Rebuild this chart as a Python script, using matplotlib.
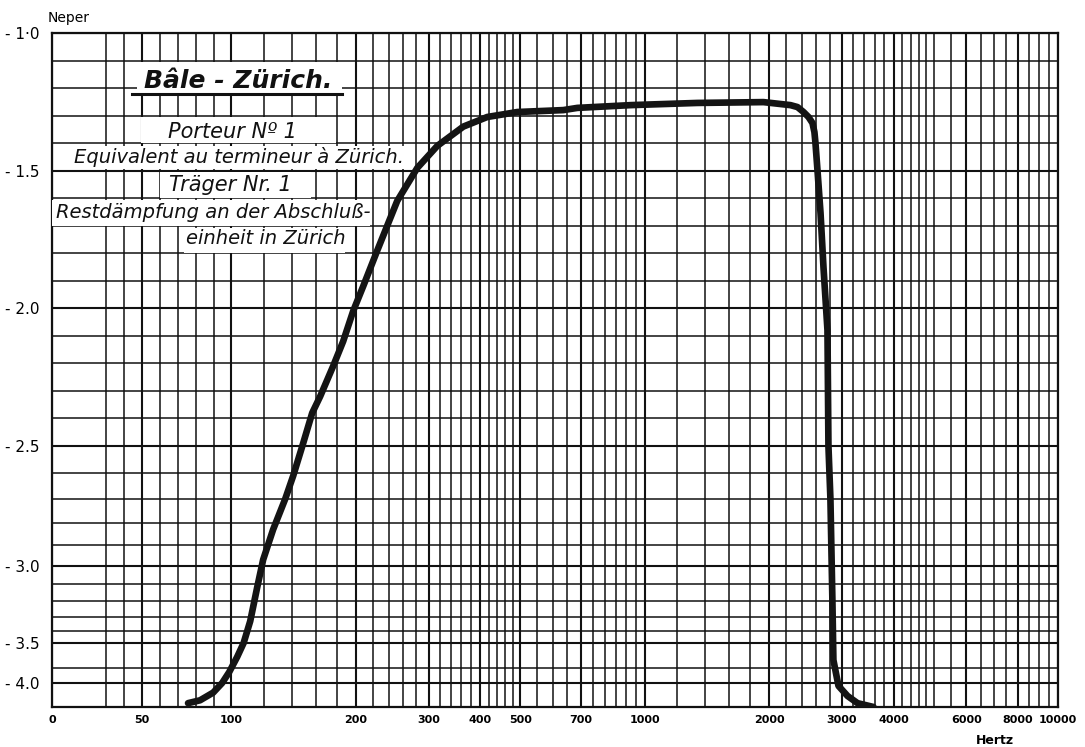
import numpy as np
import matplotlib
matplotlib.use("Agg")
from matplotlib import pyplot as plt
from matplotlib.patches import Rectangle

# frequency (Hz) and residual attenuation (Neper)
freq_hz = [75.8, 82.5, 89.8, 94.8, 98.7, 103.2, 107.0, 111.0, 115.4, 119.3,
           126.1, 134.9, 141.1, 149.1, 156.8, 163.9, 176.2, 186.3, 197.0, 208.3,
           225.3, 251.8, 281.6, 314.8, 363.9, 415.9, 491.6, 635.3, 686.9, 923,
           1341, 1938, 2253, 2342, 2422, 2490, 2546, 2574, 2589, 2618, 2663, 2707, 2768,
           2783, 2814, 2845, 2861, 2943, 3095, 3273, 3578]
neper = [-4.21, -4.18, -4.10, -4.00, -3.82, -3.64, -3.50, -3.33, -3.12, -2.97,
         -2.83, -2.70, -2.61, -2.49, -2.38, -2.32, -2.21, -2.12, -2.01, -1.92,
         -1.79, -1.61, -1.49, -1.41, -1.34, -1.305, -1.287, -1.28, -1.272, -1.262,
         -1.254, -1.251, -1.262, -1.269, -1.287, -1.305, -1.327, -1.36, -1.40, -1.498, -1.654, -1.85, -2.079,
         -2.5, -2.7, -3.195, -3.67, -4.03, -4.135, -4.21, -4.25]

x_ticks = [0, 50, 100, 200, 300, 400, 500, 700, 1000, 2000, 3000, 4000, 6000, 8000, 10000]
y_ticks = [-1.0, -1.5, -2.0, -2.5, -3.0, -3.5, -4.0]
y_tick_labels = ["- 1·0", "- 1.5", "- 2.0", "- 2.5", "- 3.0", "- 3.5", "- 4.0"]

x_grid = (list(range(30, 101, 10)) + list(range(120, 500, 20)) + list(range(500, 1000, 50))
          + list(range(1000, 5000, 200)) + list(range(5000, 10001, 500)))
y_grid = [round(-1.0 - 0.1 * i, 2) for i in range(26)] + [-3.75, -4.0]

# the paper's y ruling: linear down to -2.5, then squeezed towards the bottom
y_scale_vals = [-4.25, -4.0, -3.75, -3.5, -3.4, -3.3, -3.2, -3.1, -3.0, -2.9, -2.8, -2.7, -2.6, -2.5, -1.0]
y_scale_pos = [0, 24, 39, 64, 76, 90, 106, 123, 141, 162, 184, 208, 234, 261, 674]

C = 1 / np.log(10)


def fwd_x(f):
    # linear up to 100 Hz, logarithmic above (slopes join at 100 Hz)
    f = np.asarray(f, float)
    with np.errstate(divide="ignore", invalid="ignore"):
        return np.where(f <= 100, f / (100 * np.log(10)), np.log10(np.maximum(f, 1e-9) / 100) + C)


def inv_x(p):
    p = np.asarray(p, float)
    with np.errstate(over="ignore"):
        return np.where(p <= C, p * 100 * np.log(10), 100 * 10 ** (p - C))


def fwd_y(v):
    return np.interp(v, y_scale_vals, y_scale_pos)


def inv_y(p):
    return np.interp(p, y_scale_pos, y_scale_vals)


fig = plt.figure(figsize=(10.85, 7.47), dpi=100)
ax = fig.add_axes([52 / 1085, 40 / 747, 1006 / 1085, 674 / 747])
ax.set_xscale("function", functions=(fwd_x, inv_x))
ax.set_yscale("function", functions=(fwd_y, inv_y))
ax.set_xlim(0, 10000)
ax.set_ylim(-4.25, -1.0)

ax.set_xticks(x_ticks)
ax.set_xticklabels([str(t) for t in x_ticks], fontsize=8, fontweight="bold")
ax.set_xticks(x_grid, minor=True)
ax.set_yticks(y_ticks)
ax.set_yticklabels(y_tick_labels, fontsize=11)
ax.set_yticks(y_grid, minor=True)
ax.tick_params(which="both", length=0)
ax.tick_params(axis="x", pad=6)
ax.tick_params(axis="y", pad=9)
ax.grid(True, which="minor", color="#111111", lw=1.1)
ax.grid(True, which="major", color="#111111", lw=1.5)
ax.set_axisbelow(True)
for s in ax.spines.values():
    s.set_linewidth(1.6)
    s.set_color("#111111")

ax.plot(freq_hz, neper, color="#141414", lw=4.8, solid_capstyle="round",
        solid_joinstyle="round", zorder=5)

# white patches cut out of the ruling behind each line of the caption
caption = [
    ("Bâle - Zürich.", 0.185, 0.929, 18, "bold", (0.0845, 0.908, 0.2038, 0.049)),
    ("Porteur Nº 1", 0.179, 0.853, 15, "normal", (0.0885, 0.8368, 0.1938, 0.0386)),
    ("Equivalent au termineur à Zürich.", 0.186, 0.816, 14, "normal", (0.005, 0.7982, 0.3489, 0.0341)),
    ("Träger Nr. 1", 0.177, 0.7745, 15, "normal", (0.1074, 0.7552, 0.1501, 0.0386)),
    ("Restdämpfung an der Abschluß-", 0.1605, 0.7344, 14, "normal", (0.0, 0.7136, 0.3161, 0.0386)),
    ("einheit in Zürich", 0.2127, 0.6958, 14, "normal", (0.1312, 0.6736, 0.1601, 0.0371)),
]
for label, tx, ty, size, weight, (bx, by, bw, bh) in caption:
    ax.add_patch(Rectangle((bx, by), bw, bh, transform=ax.transAxes, facecolor="white",
                           edgecolor="none", zorder=3))
    ax.text(tx, ty, label, transform=ax.transAxes, ha="center", va="center", style="italic",
            fontsize=size, fontweight=weight, color="#111111", zorder=4)
ax.plot([0.0795, 0.2883], [0.9095, 0.9095], transform=ax.transAxes, color="#111111", lw=2.2, zorder=6)

ax.text(-0.004, 1.022, "Neper", transform=ax.transAxes, fontsize=10, ha="left", va="center")
ax.text(0.937, -0.05, "Hertz", transform=ax.transAxes, fontsize=9, fontweight="bold",
        ha="center", va="center")

fig.savefig("out.png", dpi=100, facecolor="white")
